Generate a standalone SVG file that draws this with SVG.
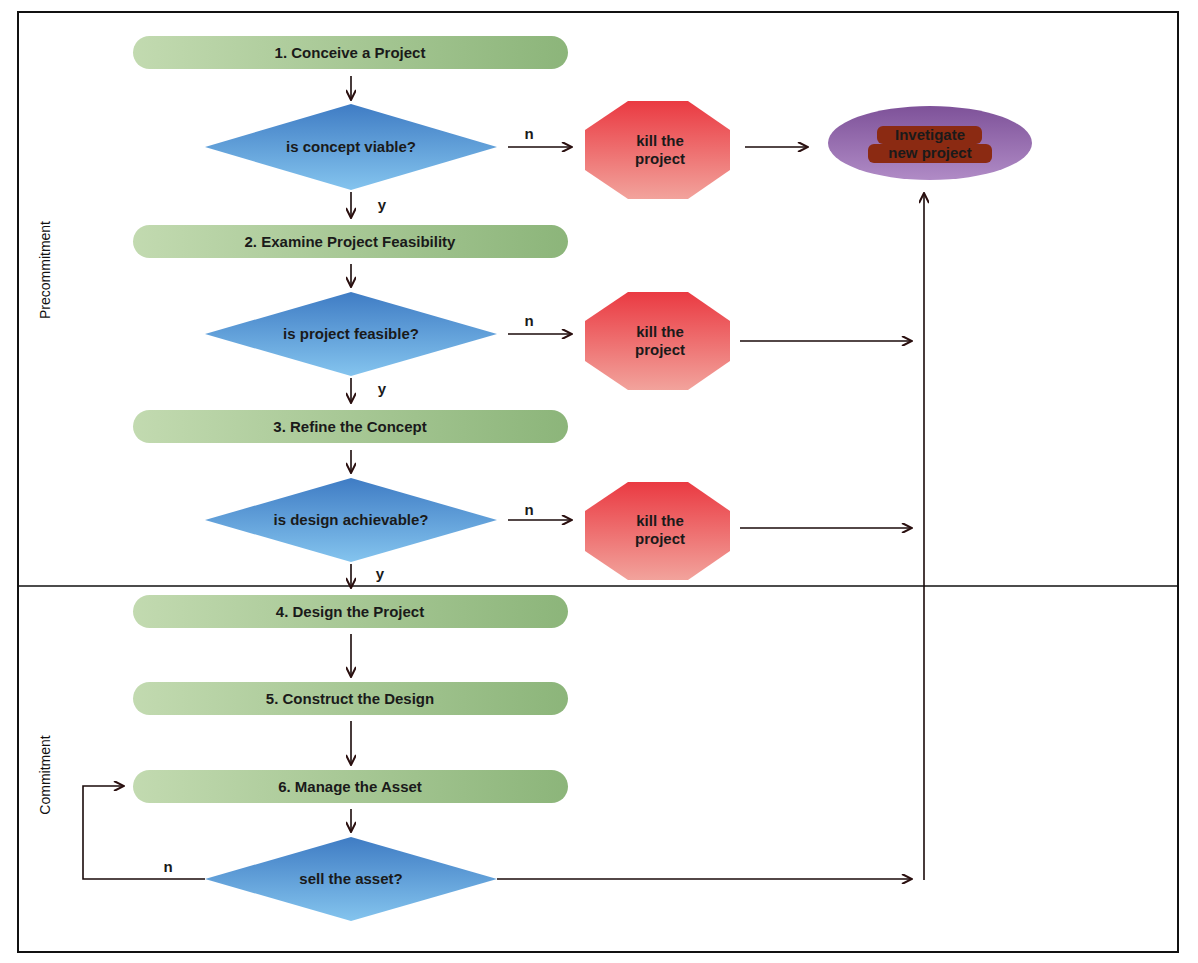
<svg xmlns="http://www.w3.org/2000/svg" width="1198" height="963" viewBox="0 0 1198 963">
<defs>
<linearGradient id="gp" x1="0" y1="0" x2="1" y2="0"><stop offset="0" stop-color="#c2dab0"/><stop offset="1" stop-color="#8cb57a"/></linearGradient>
<linearGradient id="gd" x1="0" y1="0" x2="0" y2="1"><stop offset="0" stop-color="#3f7cc4"/><stop offset="1" stop-color="#84c4ee"/></linearGradient>
<linearGradient id="go" x1="0" y1="0" x2="0" y2="1"><stop offset="0" stop-color="#ea3a42"/><stop offset="1" stop-color="#f2a39c"/></linearGradient>
<linearGradient id="ge" x1="0" y1="0" x2="0" y2="1"><stop offset="0" stop-color="#7e5299"/><stop offset="1" stop-color="#b08bc6"/></linearGradient>
<marker id="ah" markerWidth="12" markerHeight="10" refX="11" refY="5" orient="auto" markerUnits="userSpaceOnUse"><path d="M1,0 L11,5 L1,10" fill="none" stroke="#2a0f0f" stroke-width="2"/></marker>
</defs>
<style>
text{font-family:"Liberation Sans",Arial,sans-serif;font-weight:bold;font-size:15px;fill:#1a1a1a;text-anchor:middle}
.c{stroke:#1a0a0a;stroke-width:1.6;fill:none}
.a{marker-end:url(#ah)}
.side{font-weight:normal;font-size:14px;fill:#111}
</style>
<rect x="18" y="12" width="1160" height="940" fill="#fff" stroke="#111" stroke-width="2"/>
<line x1="18" y1="586" x2="1178" y2="586" stroke="#111" stroke-width="1.5"/>
<text class="side" transform="translate(50,270) rotate(-90)">Precommitment</text>
<text class="side" transform="translate(50,775) rotate(-90)">Commitment</text>

<g id="connectors">
<line class="c a" x1="351" y1="76" x2="351" y2="100"/>
<line class="c a" x1="351" y1="192" x2="351" y2="218"/>
<line class="c a" x1="351" y1="264" x2="351" y2="287"/>
<line class="c a" x1="351" y1="378" x2="351" y2="403"/>
<line class="c a" x1="351" y1="450" x2="351" y2="473"/>
<line class="c a" x1="351" y1="564" x2="351" y2="588"/>
<line class="c a" x1="351" y1="634" x2="351" y2="677"/>
<line class="c a" x1="351" y1="721" x2="351" y2="765"/>
<line class="c a" x1="351" y1="809" x2="351" y2="832"/>
<line class="c a" x1="508" y1="147" x2="572" y2="147"/>
<line class="c a" x1="508" y1="334" x2="572" y2="334"/>
<line class="c a" x1="508" y1="520" x2="572" y2="520"/>
<line class="c a" x1="745" y1="147" x2="808" y2="147"/>
<line class="c a" x1="740" y1="341" x2="912" y2="341"/>
<line class="c a" x1="740" y1="528" x2="912" y2="528"/>
<line class="c a" x1="497" y1="879" x2="912" y2="879"/>
<line class="c a" x1="924" y1="880" x2="924" y2="193"/>
<polyline class="c a" points="205,879 83,879 83,786 124,786"/>
<text x="529" y="139">n</text><text x="529" y="326">n</text><text x="529" y="515">n</text>
<text x="382" y="210">y</text><text x="382" y="394">y</text><text x="380" y="579">y</text>
<text x="168" y="872">n</text>
</g>

<g id="p1"><rect x="133" y="36" width="435" height="33" rx="16.5" fill="url(#gp)"/><text x="350" y="58">1. Conceive a Project</text></g>
<g id="p2"><rect x="133" y="225" width="435" height="33" rx="16.5" fill="url(#gp)"/><text x="350" y="247">2. Examine Project Feasibility</text></g>
<g id="p3"><rect x="133" y="410" width="435" height="33" rx="16.5" fill="url(#gp)"/><text x="350" y="432">3. Refine the Concept</text></g>
<g id="p4"><rect x="133" y="595" width="435" height="33" rx="16.5" fill="url(#gp)"/><text x="350" y="617">4. Design the Project</text></g>
<g id="p5"><rect x="133" y="682" width="435" height="33" rx="16.5" fill="url(#gp)"/><text x="350" y="704">5. Construct the Design</text></g>
<g id="p6"><rect x="133" y="770" width="435" height="33" rx="16.5" fill="url(#gp)"/><text x="350" y="792">6. Manage the Asset</text></g>

<g id="d1"><polygon points="351,104 497,147 351,190 205,147" fill="url(#gd)"/><text x="351" y="152">is concept viable?</text></g>
<g id="d2"><polygon points="351,292 497,334 351,376 205,334" fill="url(#gd)"/><text x="351" y="339">is project feasible?</text></g>
<g id="d3"><polygon points="351,478 497,520 351,562 205,520" fill="url(#gd)"/><text x="351" y="525">is design achievable?</text></g>
<g id="d4"><polygon points="351,837 497,879 351,921 205,879" fill="url(#gd)"/><text x="351" y="884">sell the asset?</text></g>

<g id="k1"><polygon points="628,101 688,101 730,130 730,170 688,199 628,199 585,170 585,130" fill="url(#go)"/><text x="660" y="146">kill the</text><text x="660" y="164">project</text></g>
<g id="k2"><polygon points="628,292 688,292 730,321 730,361 688,390 628,390 585,361 585,321" fill="url(#go)"/><text x="660" y="337">kill the</text><text x="660" y="355">project</text></g>
<g id="k3"><polygon points="628,482 688,482 730,511 730,551 688,580 628,580 585,551 585,511" fill="url(#go)"/><text x="660" y="526">kill the</text><text x="660" y="544">project</text></g>

<g id="e1"><ellipse cx="930" cy="143" rx="102" ry="37" fill="url(#ge)"/>
<rect x="877" y="126" width="105" height="18" rx="6" fill="#8b2a12"/>
<rect x="868" y="144" width="124" height="19" rx="6" fill="#8b2a12"/>
<text x="930" y="140">Invetigate</text><text x="930" y="158">new project</text></g>
</svg>
